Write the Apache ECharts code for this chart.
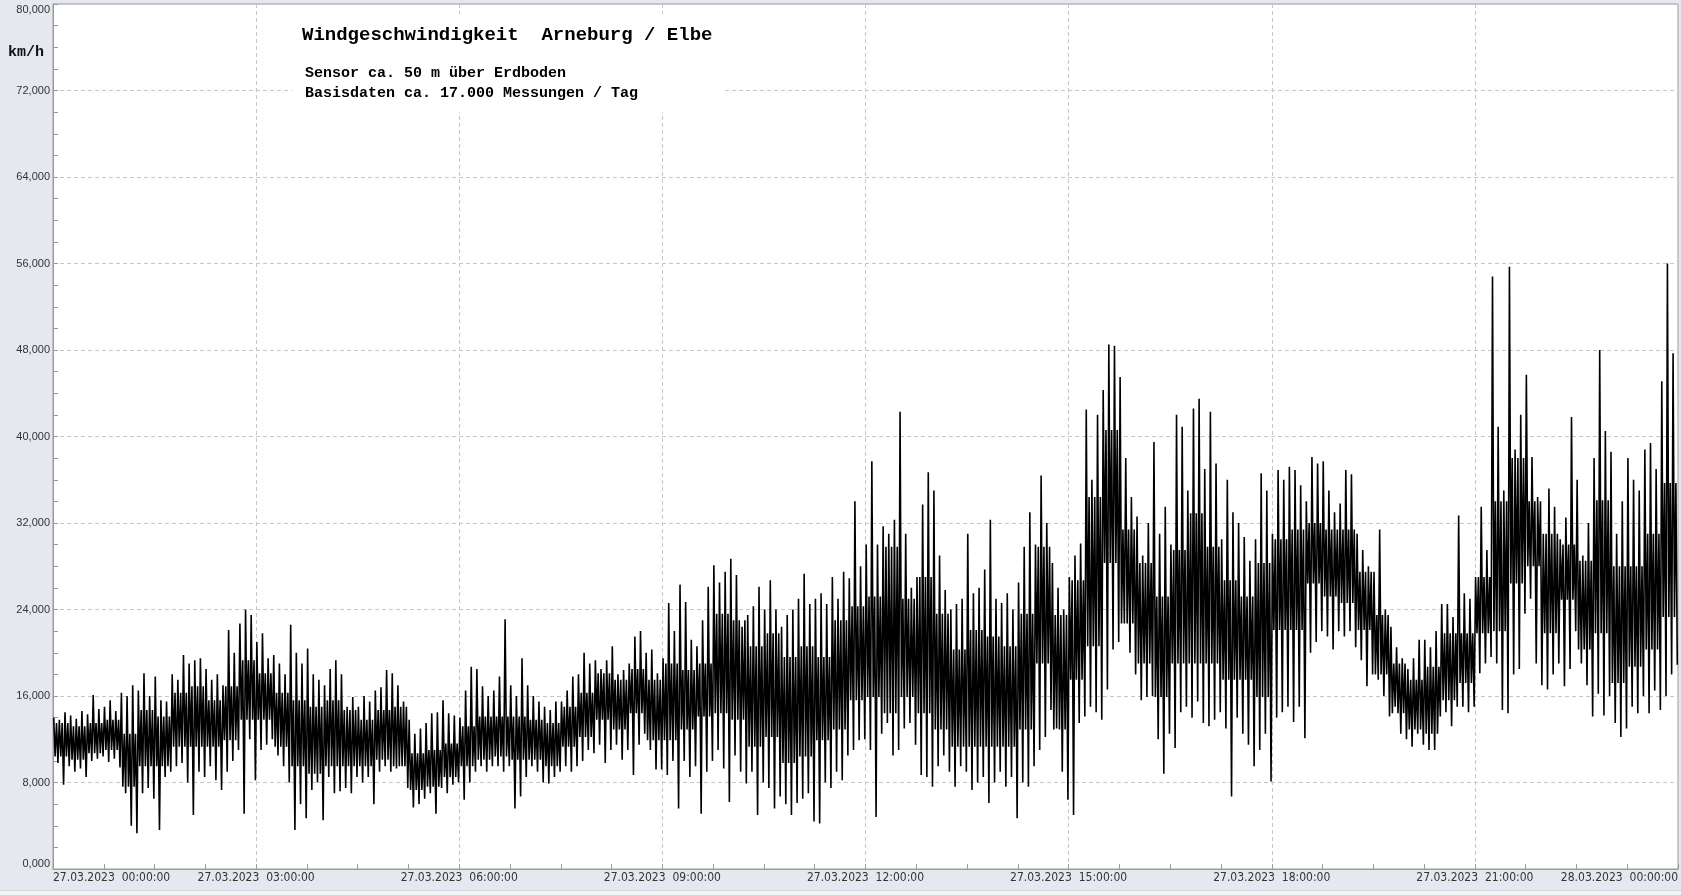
<!DOCTYPE html>
<html>
<head>
<meta charset="utf-8">
<script src="https://cdn.jsdelivr.net/npm/echarts@6/dist/echarts.min.js"></script>
<style>
html,body{margin:0;padding:0;background:#e5e8ef;}
#chart{width:1681px;height:895px;}
</style>
</head>
<body>
<div id="chart"></div>
<script>
// ---- text ----
const dayLabels = ['27.03.2023', '28.03.2023'];
const yTicks = [0, 8, 16, 24, 32, 40, 48, 56, 64, 72, 80];
const titleText = 'Windgeschwindigkeit  Arneburg / Elbe';
const subtitleLines = ['Sensor ca. 50 m über Erdboden', 'Basisdaten ca. 17.000 Messungen / Tag'];
const unitText = 'km/h';

// ---- data (km/h) ----
// 5-minute columns: highest and lowest reading per column (288 columns)
const columnMinutes = 5;
const highValues = [
  // 00h
  14.0, 13.8, 14.5, 14.2, 13.9, 14.6, 14.3, 16.1, 14.8, 15.0, 15.6, 14.6,
  // 01h
  16.3, 16.0, 17.0, 16.5, 18.1, 16.0, 17.8, 15.6, 15.5, 18.0, 17.5, 19.8,
  // 02h
  19.0, 19.3, 19.5, 18.5, 17.5, 18.0, 17.0, 22.1, 20.0, 22.7, 24.0, 23.5,
  // 03h
  21.0, 21.8, 19.5, 19.8, 19.0, 18.0, 22.6, 20.0, 19.0, 20.4, 18.0, 17.5,
  // 04h
  17.0, 18.5, 19.3, 18.0, 15.0, 15.9, 15.0, 16.0, 15.5, 16.5, 16.8, 18.4,
  // 05h
  18.1, 17.0, 15.5, 13.8, 12.5, 13.0, 13.5, 14.4, 14.5, 15.6, 14.4, 14.2,
  // 06h
  14.0, 16.5, 18.7, 18.5, 16.9, 16.0, 16.5, 17.8, 23.1, 17.0, 16.0, 19.5,
  // 07h
  17.0, 16.0, 15.5, 15.0, 14.7, 15.5, 15.5, 16.5, 17.8, 18.0, 20.0, 19.0,
  // 08h
  19.3, 18.5, 19.3, 20.6, 18.0, 18.4, 19.0, 21.5, 22.0, 20.0, 20.3, 18.1,
  // 09h
  19.5, 24.6, 22.0, 26.3, 24.7, 21.2, 20.6, 23.0, 26.1, 28.1, 26.5, 27.5,
  // 10h
  28.7, 27.2, 22.4, 23.5, 24.3, 26.1, 24.0, 26.7, 24.0, 22.4, 23.5, 24.0,
  // 11h
  25.0, 27.3, 24.5, 25.0, 25.5, 24.5, 27.0, 25.0, 27.5, 26.9, 34.0, 28.0,
  // 12h
  30.0, 37.7, 30.0, 31.7, 31.0, 32.3, 42.3, 31.0, 26.0, 27.0, 33.7, 36.7,
  // 13h
  35.0, 29.0, 25.8, 24.0, 24.5, 25.0, 31.0, 25.5, 26.0, 27.7, 32.3, 25.0,
  // 14h
  24.6, 25.5, 24.0, 26.5, 29.8, 33.0, 30.0, 36.4, 32.0, 28.3, 26.0, 24.0,
  // 15h
  27.0, 29.0, 30.1, 42.5, 36.0, 42.0, 44.3, 48.5, 48.4, 45.5, 38.0, 34.4,
  // 16h
  32.6, 29.0, 32.0, 39.5, 31.0, 33.5, 30.0, 42.0, 40.9, 35.0, 42.6, 43.5,
  // 17h
  37.0, 42.3, 37.5, 30.5, 36.0, 33.0, 32.0, 30.7, 28.5, 30.5, 36.6, 35.0,
  // 18h
  31.0, 36.9, 36.0, 37.2, 36.9, 35.5, 34.0, 38.1, 37.5, 37.7, 35.0, 33.0,
  // 19h
  33.8, 36.9, 36.5, 31.0, 29.5, 28.0, 27.5, 31.4, 24.0, 22.4, 20.5, 19.5,
  // 20h
  18.5, 19.5, 21.2, 21.2, 20.5, 22.0, 24.5, 24.5, 23.3, 32.7, 25.5, 25.0,
  // 21h
  27.0, 33.5, 29.5, 54.8, 40.9, 35.0, 55.7, 38.8, 42.0, 45.7, 38.1, 34.4,
  // 22h
  31.0, 35.2, 33.5, 30.5, 32.5, 41.8, 36.0, 29.0, 32.0, 38.0, 48.0, 40.5,
  // 23h
  38.6, 31.0, 34.0, 38.0, 36.0, 35.0, 38.8, 39.4, 37.0, 45.1, 56.0, 47.7
];
const lowValues = [
  // 00h
  9.8, 7.8, 9.5, 9.0, 9.3, 8.5, 10.0, 10.2, 10.4, 9.9, 10.2, 9.4,
  // 01h
  7.0, 4.0, 3.3, 7.0, 7.5, 6.5, 3.6, 8.5, 9.0, 9.5, 9.8, 8.0,
  // 02h
  5.0, 9.0, 8.5, 9.5, 8.2, 7.3, 9.0, 10.0, 11.0, 5.1, 12.0, 8.2,
  // 03h
  11.0, 11.5, 12.0, 10.5, 9.5, 8.0, 3.6, 6.0, 4.7, 7.3, 8.0, 4.5,
  // 04h
  8.5, 7.0, 7.2, 7.5, 7.0, 8.5, 8.0, 8.5, 6.0, 9.0, 9.5, 9.0,
  // 05h
  9.3, 9.5, 7.5, 5.7, 6.0, 6.5, 7.0, 5.1, 7.5, 7.0, 7.8, 8.0,
  // 06h
  6.4, 8.0, 9.0, 9.5, 9.0, 9.5, 9.5, 9.0, 9.5, 5.6, 6.7, 8.5,
  // 07h
  9.5, 9.0, 8.0, 7.9, 8.5, 9.0, 9.5, 9.0, 9.5, 10.0, 11.0, 10.7,
  // 08h
  11.5, 9.8, 11.0, 11.5, 10.1, 11.0, 8.7, 11.5, 12.5, 11.0, 9.2, 9.2,
  // 09h
  8.7, 10.0, 5.6, 10.0, 8.5, 9.5, 5.1, 9.0, 10.0, 11.0, 9.3, 6.2,
  // 10h
  10.5, 9.0, 7.9, 9.0, 5.0, 8.0, 7.5, 5.6, 6.7, 6.0, 5.0, 6.1,
  // 11h
  6.5, 7.0, 4.4, 4.2, 8.0, 7.5, 9.0, 8.2, 10.5, 11.0, 11.9, 12.0,
  // 12h
  11.0, 4.8, 12.5, 13.5, 10.5, 11.0, 13.0, 13.5, 11.5, 8.7, 8.5, 7.6,
  // 13h
  9.5, 10.5, 9.0, 7.6, 9.5, 9.0, 7.3, 8.0, 8.5, 6.1, 8.0, 9.0,
  // 14h
  7.6, 8.5, 4.7, 8.0, 7.6, 9.5, 11.0, 12.2, 14.7, 13.0, 9.0, 6.4,
  // 15h
  5.0, 13.5, 14.1, 15.0, 14.5, 13.8, 16.6, 20.3, 21.0, 22.7, 20.0, 18.0,
  // 16h
  15.6, 15.9, 16.0, 12.0, 8.8, 12.5, 11.2, 14.5, 15.0, 14.0, 15.5, 13.5,
  // 17h
  13.2, 13.8, 14.5, 13.0, 6.7, 14.0, 12.5, 11.5, 9.5, 11.0, 12.5, 8.1,
  // 18h
  14.0, 14.5, 15.0, 13.6, 15.0, 12.1, 20.0, 21.0, 22.0, 21.5, 20.3, 22.0,
  // 19h
  21.5, 22.0, 20.5, 19.3, 16.9, 18.0, 17.5, 16.0, 14.1, 15.0, 12.5, 12.0,
  // 20h
  11.3, 12.5, 11.5, 11.0, 11.0, 14.1, 14.5, 13.2, 15.0, 15.0, 14.5, 15.0,
  // 21h
  18.1, 19.0, 19.6, 19.0, 14.7, 14.4, 18.0, 18.5, 23.6, 25.0, 19.0, 17.0,
  // 22h
  16.6, 18.0, 19.0, 16.9, 18.5, 22.0, 19.0, 17.0, 14.1, 16.2, 14.2, 16.0,
  // 23h
  13.5, 12.2, 13.0, 15.0, 14.4, 16.0, 14.4, 16.5, 14.7, 16.0, 18.0, 18.9
];

// 15-minute groups: upper and lower edge of the dense core band (96 groups)
const coreGroupColumns = 3;
const coreHighValues = [
  13.5, 13.2, 13.5, 13.8, 12.5, 14.7, 14.1, 16.3, 16.9, 15.6, 16.9, 19.3, 18.1, 16.3, 15.6, 15.0,
  15.6, 14.7, 13.8, 14.7, 15.0, 10.7, 11.0, 11.6, 13.2, 14.1, 14.1, 14.1, 13.8, 13.5, 15.0, 16.3,
  18.1, 17.5, 18.5, 17.5, 19.0, 18.4, 19.0, 23.6, 23.0, 20.6, 21.8, 19.6, 20.6, 19.6, 23.0, 24.3,
  25.2, 29.8, 25.0, 27.0, 23.6, 20.3, 22.1, 21.5, 20.6, 23.6, 29.8, 23.5, 26.7, 34.4, 40.6, 31.4,
  28.3, 25.2, 29.5, 32.9, 29.8, 26.7, 25.2, 28.3, 30.5, 31.4, 32.0, 31.4, 31.4, 27.5, 23.5, 19.0,
  17.5, 18.7, 21.8, 21.8, 27.0, 34.0, 38.0, 34.0, 31.0, 30.0, 28.5, 34.1, 28.0, 28.0, 31.0, 35.7
];
const coreLowValues = [
  10.4, 10.1, 10.7, 11.0, 7.6, 9.5, 9.5, 11.3, 11.3, 11.3, 11.9, 13.8, 13.8, 11.3, 9.5, 8.8,
  9.5, 9.5, 9.5, 10.1, 9.5, 7.3, 7.6, 8.5, 9.5, 10.1, 10.4, 10.1, 10.1, 9.5, 11.3, 12.2,
  13.8, 12.9, 14.4, 11.9, 11.9, 12.9, 14.1, 14.4, 13.8, 11.3, 12.2, 9.8, 10.4, 11.9, 12.9, 15.6,
  15.9, 14.4, 15.9, 14.4, 12.9, 11.3, 11.3, 11.3, 11.3, 12.9, 19.0, 12.9, 17.5, 20.6, 28.3, 22.7,
  19.0, 15.9, 19.0, 19.0, 19.0, 17.5, 17.5, 15.9, 22.1, 22.1, 26.4, 25.2, 24.6, 22.1, 18.0, 14.4,
  12.9, 12.5, 15.6, 17.2, 21.8, 22.0, 26.4, 28.0, 21.8, 24.9, 20.3, 21.8, 17.2, 18.7, 20.3, 23.3
];

// ---- series: inside each column the trace runs high -> core low -> core high -> low ----
const lineData = [];
for (let k = 0; k < highValues.length; k++) {
  const t0 = k * columnMinutes;
  const g = Math.floor(k / coreGroupColumns);
  const step = columnMinutes / 4;
  lineData.push([t0 + step * 0.5, highValues[k]]);
  lineData.push([t0 + step * 1.5, coreLowValues[g]]);
  lineData.push([t0 + step * 2.5, coreHighValues[g]]);
  lineData.push([t0 + step * 3.5, lowValues[k]]);
}

function pad2(n) { return String(n).padStart(2, '0'); }
function fmtX(v) {
  const day = v >= 1440 ? dayLabels[1] : dayLabels[0];
  const m = Math.round(v) % 1440;
  return day + '  ' + pad2(Math.floor(m / 60)) + ':' + pad2(m % 60) + ':00';
}
function fmtY(v) { return v.toFixed(3).replace('.', ','); }

const gridColor = '#c6c6c6';
const axisColor = '#9a9a9a';
const mono = '"Liberation Mono", "Courier New", monospace';

const chart = echarts.init(document.getElementById('chart'), null, { renderer: 'canvas' });
chart.setOption({
  backgroundColor: '#e5e8ef',
  animation: false,
  grid: {
    left: 53, right: 3, top: 4, bottom: 26,
    show: true, backgroundColor: '#ffffff', borderColor: axisColor, borderWidth: 1,
    containLabel: false, outerBoundsMode: 'none'
  },
  xAxis: {
    type: 'value', min: 0, max: 1440, interval: 180,
    axisLine: { show: true, lineStyle: { color: axisColor } },
    axisTick: { show: true, inside: true, length: 5, lineStyle: { color: axisColor } },
    minorTick: { show: true, splitNumber: 4, length: 5, lineStyle: { color: axisColor } },
    splitLine: { show: true, lineStyle: { color: gridColor, type: [4, 3], width: 1 } },
    axisLabel: {
      formatter: fmtX, margin: 3, color: '#333',
      fontFamily: '"Liberation Sans Narrow", "Arial Narrow", "DejaVu Sans Condensed", sans-serif',
      fontSize: 12, alignMinLabel: 'left', alignMaxLabel: 'right'
    }
  },
  yAxis: {
    type: 'value', min: yTicks[0], max: yTicks[yTicks.length - 1], interval: yTicks[1] - yTicks[0],
    axisLine: { show: true, lineStyle: { color: axisColor } },
    axisTick: { show: true, inside: true, length: 5, lineStyle: { color: axisColor } },
    minorTick: { show: true, splitNumber: 4, length: 5, lineStyle: { color: axisColor } },
    splitLine: { show: true, lineStyle: { color: gridColor, type: [4, 3], width: 1 } },
    axisLabel: {
      formatter: fmtY, margin: 3, color: '#333',
      fontFamily: '"Liberation Sans", Arial, sans-serif', fontSize: 11,
      verticalAlignMaxLabel: 'top', verticalAlignMinLabel: 'bottom'
    }
  },
  series: [{
    type: 'line',
    data: lineData,
    showSymbol: false,
    symbol: 'none',
    lineStyle: { color: '#000', width: 1.6 },
    z: 3
  }],
  graphic: [
    { type: 'rect', z: 100, shape: { x: 292, y: 14, width: 433, height: 98 }, style: { fill: '#ffffff' } },
    { type: 'text', z: 101, x: 302, y: 35,
      style: { text: titleText, font: 'bold 19px ' + mono, fill: '#000', verticalAlign: 'middle' } },
    { type: 'text', z: 101, x: 305, y: 73.5,
      style: { text: subtitleLines[0], font: 'bold 15px ' + mono, fill: '#000', verticalAlign: 'middle' } },
    { type: 'text', z: 101, x: 305, y: 93.5,
      style: { text: subtitleLines[1], font: 'bold 15px ' + mono, fill: '#000', verticalAlign: 'middle' } },
    { type: 'text', z: 101, x: 8, y: 52,
      style: { text: unitText, font: 'bold 15px ' + mono, fill: '#111', verticalAlign: 'middle' } },
    { type: 'rect', z: 100, shape: { x: 0, y: 890, width: 1681, height: 5 }, style: { fill: '#f3f3f3' } },
    { type: 'line', z: 100, shape: { x1: 0, y1: 890.5, x2: 1681, y2: 890.5 }, style: { stroke: '#d6d9df', lineWidth: 1 } }
  ]
});
</script>
</body>
</html>
